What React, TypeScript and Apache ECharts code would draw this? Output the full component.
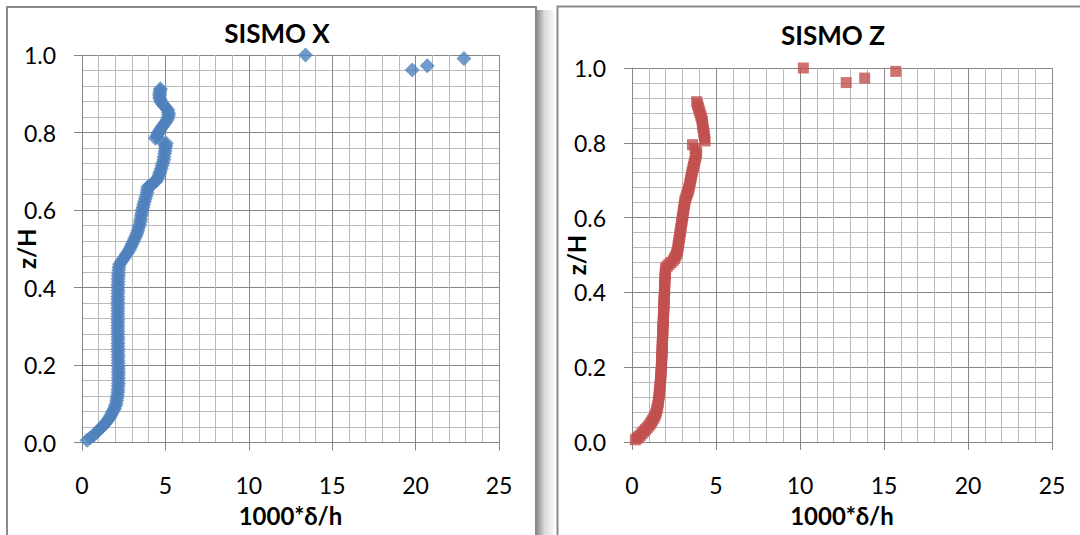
import React, { useEffect, useRef } from "react";
import * as echarts from "echarts";

// ---- data ----
// SISMO X : [1000*δ/h, z/H]
const sismoXProfile: [number, number][] = [
  [0.3, 0.006], [0.5, 0.012], [0.7, 0.019], [0.85, 0.025], [1.0, 0.032], [1.12, 0.037],
  [1.25, 0.042], [1.35, 0.047], [1.45, 0.052], [1.55, 0.058], [1.65, 0.064], [1.73, 0.07],
  [1.8, 0.076], [1.88, 0.082], [1.95, 0.088], [2.0, 0.094], [2.05, 0.1], [2.08, 0.108],
  [2.1, 0.115], [2.13, 0.122], [2.15, 0.13], [2.16, 0.137], [2.17, 0.145], [2.18, 0.152],
  [2.18, 0.16], [2.18, 0.167], [2.18, 0.175], [2.18, 0.182], [2.18, 0.19], [2.18, 0.197],
  [2.17, 0.205], [2.17, 0.212], [2.17, 0.22], [2.17, 0.227], [2.16, 0.235], [2.16, 0.242],
  [2.16, 0.25], [2.16, 0.257], [2.16, 0.265], [2.16, 0.272], [2.15, 0.28], [2.15, 0.287],
  [2.15, 0.295], [2.15, 0.302], [2.15, 0.31], [2.15, 0.317], [2.15, 0.325], [2.15, 0.332],
  [2.15, 0.34], [2.15, 0.347], [2.15, 0.355], [2.15, 0.362], [2.15, 0.37], [2.15, 0.377],
  [2.16, 0.385], [2.16, 0.392], [2.16, 0.4], [2.16, 0.407], [2.17, 0.415], [2.17, 0.422],
  [2.18, 0.43], [2.19, 0.437], [2.2, 0.445], [2.22, 0.452], [2.25, 0.46], [2.35, 0.466],
  [2.45, 0.472], [2.55, 0.478], [2.65, 0.485], [2.75, 0.491], [2.85, 0.498], [2.93, 0.505],
  [3.0, 0.512], [3.08, 0.519], [3.15, 0.526], [3.23, 0.533], [3.3, 0.54], [3.35, 0.547],
  [3.4, 0.555], [3.45, 0.562], [3.5, 0.57], [3.52, 0.577], [3.55, 0.585], [3.58, 0.592],
  [3.62, 0.6], [3.66, 0.607], [3.7, 0.615], [3.75, 0.622], [3.8, 0.63], [3.85, 0.637],
  [3.9, 0.645], [3.92, 0.652], [3.95, 0.66], [4.08, 0.663], [4.2, 0.667], [4.33, 0.671],
  [4.45, 0.675], [4.52, 0.681], [4.6, 0.688], [4.65, 0.694], [4.7, 0.7], [4.75, 0.707],
  [4.8, 0.715], [4.85, 0.722], [4.9, 0.73], [4.92, 0.737], [4.95, 0.745], [4.98, 0.752],
  [5.0, 0.76], [5.03, 0.766], [5.05, 0.772], [4.75, 0.778], [4.4, 0.785], [4.48, 0.791],
  [4.55, 0.797], [4.62, 0.802], [4.7, 0.808], [4.8, 0.814], [4.9, 0.82], [5.0, 0.826],
  [5.1, 0.832], [5.15, 0.838], [5.2, 0.845], [5.18, 0.851], [5.15, 0.858], [5.05, 0.863],
  [4.95, 0.868], [4.85, 0.873], [4.75, 0.878], [4.7, 0.884], [4.65, 0.89], [4.65, 0.896],
  [4.65, 0.902], [4.68, 0.908], [4.7, 0.913],
];
const sismoXTop: [number, number][] = [
  [13.4, 1.0], [19.8, 0.961], [20.7, 0.972], [22.9, 0.991],
];

// SISMO Z : [1000*δ/h, z/H]
const sismoZProfile: [number, number][] = [
  [0.2, 0.006], [0.3, 0.01], [0.4, 0.014], [0.5, 0.018], [0.6, 0.023], [0.7, 0.028],
  [0.8, 0.033], [0.9, 0.038], [1.0, 0.043], [1.08, 0.048], [1.15, 0.053], [1.22, 0.058],
  [1.3, 0.064], [1.36, 0.07], [1.42, 0.076], [1.46, 0.083], [1.5, 0.09], [1.53, 0.097],
  [1.56, 0.105], [1.58, 0.112], [1.6, 0.12], [1.62, 0.127], [1.64, 0.135], [1.65, 0.142],
  [1.67, 0.15], [1.68, 0.157], [1.7, 0.165], [1.71, 0.172], [1.72, 0.18], [1.73, 0.187],
  [1.74, 0.195], [1.75, 0.202], [1.76, 0.21], [1.76, 0.217], [1.77, 0.225], [1.78, 0.232],
  [1.79, 0.24], [1.79, 0.247], [1.8, 0.255], [1.8, 0.262], [1.81, 0.27], [1.82, 0.277],
  [1.83, 0.285], [1.83, 0.292], [1.84, 0.3], [1.84, 0.307], [1.85, 0.315], [1.86, 0.322],
  [1.87, 0.33], [1.87, 0.337], [1.88, 0.345], [1.89, 0.352], [1.9, 0.36], [1.9, 0.367],
  [1.91, 0.375], [1.91, 0.382], [1.92, 0.39], [1.93, 0.397], [1.94, 0.405], [1.94, 0.412],
  [1.95, 0.42], [1.95, 0.427], [1.96, 0.435], [1.97, 0.442], [1.98, 0.45], [1.99, 0.457],
  [2.0, 0.465], [2.1, 0.47], [2.2, 0.475], [2.32, 0.48], [2.45, 0.485], [2.53, 0.491],
  [2.6, 0.497], [2.65, 0.503], [2.7, 0.51], [2.73, 0.517], [2.75, 0.525], [2.78, 0.532],
  [2.8, 0.54], [2.83, 0.547], [2.85, 0.555], [2.88, 0.562], [2.9, 0.57], [2.93, 0.577],
  [2.95, 0.585], [2.98, 0.592], [3.0, 0.6], [3.03, 0.607], [3.05, 0.615], [3.08, 0.622],
  [3.1, 0.63], [3.13, 0.637], [3.15, 0.645], [3.2, 0.652], [3.25, 0.66], [3.3, 0.666],
  [3.35, 0.672], [3.38, 0.678], [3.42, 0.685], [3.45, 0.692], [3.48, 0.7], [3.52, 0.707],
  [3.55, 0.715], [3.58, 0.722], [3.62, 0.73], [3.66, 0.737], [3.7, 0.745], [3.74, 0.752],
  [3.78, 0.76], [3.82, 0.767], [3.85, 0.775], [3.75, 0.785], [3.6, 0.795], [4.35, 0.805],
  [4.32, 0.812], [4.3, 0.82], [4.28, 0.827], [4.25, 0.835], [4.22, 0.842], [4.2, 0.85],
  [4.18, 0.857], [4.15, 0.865], [4.1, 0.872], [4.05, 0.88], [4.0, 0.887], [3.95, 0.895],
  [3.9, 0.902], [3.85, 0.91],
];
const sismoZTop: [number, number][] = [
  [10.2, 1.0], [12.75, 0.961], [13.85, 0.973], [15.7, 0.991],
];

const xAxisTicks = { min: 0, max: 25, interval: 5 };
const yAxisTicks = { min: 0, max: 1, interval: 0.2 };
const chartTitles = ["SISMO X", "SISMO Z"];
const xAxisName = "1000*δ/h";
const yAxisName = "z/H";

const FONT = "Lato, 'Open Sans', sans-serif";
const AXIS_GRAY = "#868686";

function makeXAxis(gridIndex: number) {
  return {
    type: "value",
    gridIndex,
    min: xAxisTicks.min,
    max: xAxisTicks.max,
    interval: xAxisTicks.interval,
    name: xAxisName,
    nameLocation: "middle",
    nameGap: 61,
    nameMoveOverlap: false,
    nameTextStyle: { fontFamily: FONT, fontSize: 24, fontWeight: "bold", color: "#000" },
    axisLine: { show: true, onZero: false, lineStyle: { color: AXIS_GRAY, width: 1 } },
    axisTick: { show: true, inside: false, length: 8, lineStyle: { color: AXIS_GRAY, width: 1 } },
    axisLabel: { margin: 31, fontFamily: FONT, fontSize: 23, color: "#000" },
    splitLine: { show: true, lineStyle: { color: "#878787", width: 1 } },
    minorTick: { show: false, splitNumber: 5 },
    minorSplitLine: { show: true, lineStyle: { color: "#bababa", width: 1 } },
  };
}

function makeYAxis(gridIndex: number) {
  return {
    type: "value",
    gridIndex,
    min: yAxisTicks.min,
    max: yAxisTicks.max,
    interval: yAxisTicks.interval,
    name: yAxisName,
    nameLocation: "middle",
    nameRotate: 90,
    nameGap: 44,
    nameMoveOverlap: false,
    nameTextStyle: { fontFamily: FONT, fontSize: 24, fontWeight: "bold", color: "#000" },
    axisLine: { show: true, onZero: false, lineStyle: { color: AXIS_GRAY, width: 1 } },
    axisTick: { show: true, inside: false, length: 8, lineStyle: { color: AXIS_GRAY, width: 1 } },
    axisLabel: {
      margin: 26,
      fontFamily: FONT,
      fontSize: 23,
      color: "#000",
      formatter: (v: number) => v.toFixed(1),
    },
    splitLine: { show: true, lineStyle: { color: "#878787", width: 1 } },
    minorTick: { show: false, splitNumber: 5 },
    minorSplitLine: { show: true, lineStyle: { color: "#bababa", width: 1 } },
  };
}

export default function App() {
  const ref = useRef<HTMLDivElement>(null);

  useEffect(() => {
    if (!ref.current) return;
    const chart = echarts.init(ref.current, undefined, { renderer: "svg" });
    const titleStyle = { fontFamily: FONT, fontSize: 26, fontWeight: "bold", color: "#000" };
    chart.setOption({
      animation: false,
      backgroundColor: "#ffffff",
      title: [
        { text: chartTitles[0], left: 272, top: 15, textAlign: "center", textStyle: titleStyle },
        { text: chartTitles[1], left: 828, top: 17, textAlign: "center", textStyle: titleStyle },
      ],
      grid: [
        { left: 82, top: 55, width: 417, height: 387.5, outerBoundsMode: "none" },
        { left: 632, top: 68, width: 420, height: 374, outerBoundsMode: "none" },
      ],
      xAxis: [makeXAxis(0), makeXAxis(1)],
      yAxis: [makeYAxis(0), makeYAxis(1)],
      graphic: [
        {
          type: "rect",
          silent: true,
          z: -10,
          shape: { x: 537, y: 10, width: 17, height: 540 },
          style: {
            fill: new echarts.graphic.LinearGradient(0, 0, 1, 0, [
              { offset: 0, color: "#8e8e8e" },
              { offset: 0.45, color: "#dcdcdc" },
              { offset: 1, color: "#f7f7f7" },
            ]),
          },
        },
        {
          type: "rect",
          silent: true,
          shape: { x: 7, y: 7, width: 529, height: 560 },
          style: { fill: "none", stroke: "#8a8a8a", lineWidth: 2 },
        },
        {
          type: "rect",
          silent: true,
          shape: { x: 557.5, y: 6.5, width: 600, height: 560 },
          style: { fill: "none", stroke: "#8a8a8a", lineWidth: 2 },
        },
      ],
      series: [
        {
          type: "scatter",
          name: "SISMO X",
          xAxisIndex: 0,
          yAxisIndex: 0,
          symbol: "diamond",
          symbolSize: 15,
          itemStyle: { color: "#4f81bd" },
          data: [...sismoXProfile, ...sismoXTop],
        },
        {
          type: "scatter",
          name: "SISMO Z",
          xAxisIndex: 1,
          yAxisIndex: 1,
          symbol: "rect",
          symbolSize: 11,
          itemStyle: { color: "#c0504d" },
          data: [...sismoZProfile, ...sismoZTop],
        },
      ],
    });
    return () => chart.dispose();
  }, []);

  return (
    <div
      ref={ref}
      style={{ position: "fixed", left: 0, top: 0, width: 1080, height: 535, background: "#fff" }}
    />
  );
}
